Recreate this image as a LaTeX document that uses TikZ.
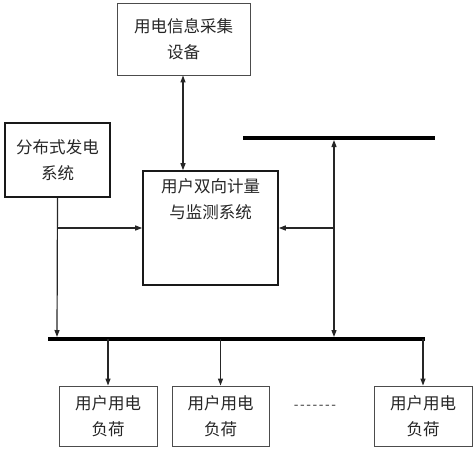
\documentclass[tikz,border=0pt]{standalone}
\usepackage{fontspec}
\setmainfont{Noto Sans CJK SC}
\newfontfamily\latinfont{Liberation Sans}
\usetikzlibrary{arrows.meta}
\begin{document}
\begin{tikzpicture}[x=1pt,y=-1pt,
  txt/.style={font=\fontsize{16.5}{26}\selectfont, align=center, text=black!85},
  thinbox/.style={draw=black!70, line width=0.9pt, inner sep=0pt, txt},
  thickbox/.style={draw=black!90, line width=1.6pt, inner sep=0pt, txt},
  bus/.style={line width=4pt, black},
  conn/.style={line width=1.2pt, black!85},
  tip/.style={-{Triangle[length=7pt,width=5pt]}},
  btip/.style={{Triangle[length=7pt,width=5pt]}-{Triangle[length=7pt,width=5pt]}}]
\useasboundingbox (0,0) rectangle (476,450);
% boxes
\node[thinbox, minimum width=133pt, minimum height=72pt] (info) at (183.5,39) {用电信息采集\\设备};
\node[thickbox, minimum width=105pt, minimum height=74pt] (dg) at (57.5,160) {分布式发电\\系统};
\node[thickbox, minimum width=135pt, minimum height=114pt] (ms) at (210.5,228) {};
\node[txt, anchor=north] (mstxt) at (210.5,175) {用户双向计量\\与监测系统};
\node[thinbox, minimum width=98pt, minimum height=60pt] (l1) at (108,416) {用户用电\\负荷};
\node[thinbox, minimum width=97pt, minimum height=60pt] (l2) at (220.5,416) {用户用电\\负荷};
\node[thinbox, minimum width=98pt, minimum height=60pt] (l3) at (423,416) {用户用电\\负荷};
\node[font=\latinfont\fontsize{14}{14}\selectfont, text=black!70] (dots) at (315,407) {-\kern1.6pt-\kern1.6pt-\kern1.6pt-\kern1.6pt-\kern1.6pt-\kern1.6pt-};
% buses
\coordinate (tbL) at (243,138);
\coordinate (tbR) at (435,138);
\coordinate (bbL) at (48,339);
\coordinate (bbR) at (425,339);
\draw[bus] (tbL) -- (tbR);
\draw[bus] (bbL) -- (bbR);
% points on buses
\coordinate (tbX) at (334,140);
\coordinate (bbX) at (334,337);
\coordinate (bbD) at (57,337);
\coordinate (rj) at (334,228);
\coordinate (lj) at (57,228);
% connectors
\draw[conn, btip] (info.south -| 183,0) -- (ms.north -| 183,0);
\draw[conn, btip] (tbX) -- (bbX);
\draw[conn, tip] (rj) -- (ms.east |- rj);
\draw[conn, tip] (dg.south) -- (bbD);
\draw[conn, tip] (lj) -- (ms.west |- lj);
\draw[conn, tip] (l1.north |- bbL) -- (l1.north);
\draw[conn, tip] (l2.north |- bbL) -- (l2.north);
\draw[conn, tip] (l3.north |- bbL) -- (l3.north);
\end{tikzpicture}
\end{document}
